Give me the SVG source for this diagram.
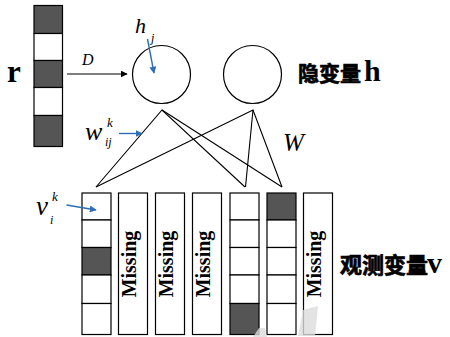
<svg xmlns="http://www.w3.org/2000/svg" width="450" height="337" viewBox="0 0 450 337">
<defs>
<style>
.cell{fill:#fff;stroke:#000;stroke-width:1.2}
.dark{fill:#555;stroke:#000;stroke-width:1.2}
.line{stroke:#000;stroke-width:1.1;fill:none}
.blue{stroke:#2f6db5;stroke-width:1.4;fill:none}
.it{font-family:"Liberation Serif",serif;font-style:italic}
.miss{font-family:"Liberation Serif",serif;font-weight:bold;font-size:20px}
.cjk{font-family:"Noto Sans CJK SC",sans-serif;font-weight:bold;font-size:21px;stroke:#000;stroke-width:0.7}
.bl{font-family:"Liberation Serif",serif;font-weight:bold;stroke:none}
</style>
<marker id="ab" viewBox="0 0 10 10" refX="9" refY="5" markerWidth="7" markerHeight="7" orient="auto" markerUnits="userSpaceOnUse"><path d="M0,0 L10,5 L0,10 z" fill="#2f6db5"/></marker>
<marker id="ak" viewBox="0 0 10 10" refX="9" refY="5" markerWidth="7" markerHeight="7" orient="auto" markerUnits="userSpaceOnUse"><path d="M0,0 L10,5 L0,10 z" fill="#000"/></marker>
</defs>
<rect width="450" height="337" fill="#fff"/>
<g id="r">
<rect class="dark" x="34" y="5.5" width="28.5" height="28"/>
<rect class="cell" x="34" y="33.5" width="28.5" height="27"/>
<rect class="dark" x="34" y="60.5" width="28.5" height="27"/>
<rect class="cell" x="34" y="87.5" width="28.5" height="28"/>
<rect class="dark" x="34" y="115.5" width="28.5" height="31"/>
<text class="bl" x="7" y="82" style="font-size:31px">r</text>
</g>
<g id="h1">
<circle cx="161.5" cy="74.5" r="29" fill="#fff" stroke="#000" stroke-width="1.2"/>
<text class="it" x="135" y="33" style="font-size:22px">h</text>
<text class="it" x="151" y="42" style="font-size:12px">j</text>
</g>
<g id="h2">
<circle cx="252.5" cy="74.5" r="29" fill="#fff" stroke="#000" stroke-width="1.2"/>
</g>
<g id="hlabel">
<text class="cjk" x="298" y="81">隐变量<tspan class="bl" x="364" style="font-size:30px">h</tspan></text>
</g>
<g id="labels">
<text class="it" x="82" y="65" style="font-size:16px">D</text>
<text class="it" x="85" y="140" style="font-size:26px">w</text>
<text class="it" x="107" y="127" style="font-size:13px">k</text>
<text class="it" x="105" y="146" style="font-size:12px">ij</text>
<text class="it" x="283" y="151" style="font-size:25px">W</text>
<text class="it" x="36" y="215" style="font-size:27px">v</text>
<text class="it" x="52" y="201" style="font-size:13px">k</text>
<text class="it" x="50" y="224" style="font-size:12px">i</text>
</g>
<g id="v1">
<rect class="cell" x="82" y="193" width="29" height="27"/>
<rect class="cell" x="82" y="220" width="29" height="27.5"/>
<rect class="dark" x="82" y="247.5" width="29" height="27.5"/>
<rect class="cell" x="82" y="275" width="29" height="28.5"/>
<rect class="cell" x="82" y="303.5" width="29" height="31"/>
</g>
<g id="v2">
<rect class="cell" x="118.5" y="193" width="29" height="141.5"/>
<text class="miss" transform="translate(135.5,264) rotate(-90)" text-anchor="middle">Missing</text>
</g>
<g id="v3">
<rect class="cell" x="155.5" y="193" width="29" height="141.5"/>
<text class="miss" transform="translate(172.5,264) rotate(-90)" text-anchor="middle">Missing</text>
</g>
<g id="v4">
<rect class="cell" x="192.5" y="193" width="29" height="141.5"/>
<text class="miss" transform="translate(209.5,264) rotate(-90)" text-anchor="middle">Missing</text>
</g>
<g id="v5">
<rect class="cell" x="230" y="193" width="29" height="27"/>
<rect class="cell" x="230" y="220" width="29" height="27.5"/>
<rect class="cell" x="230" y="247.5" width="29" height="27.5"/>
<rect class="cell" x="230" y="275" width="29" height="28.5"/>
<rect class="dark" x="230" y="303.5" width="29" height="31"/>
</g>
<g id="v6">
<rect class="dark" x="267" y="193" width="29" height="27"/>
<rect class="cell" x="267" y="220" width="29" height="27.5"/>
<rect class="cell" x="267" y="247.5" width="29" height="27.5"/>
<rect class="cell" x="267" y="275" width="29" height="28.5"/>
<rect class="cell" x="267" y="303.5" width="29" height="31"/>
</g>
<g id="v7">
<rect class="cell" x="303.5" y="193" width="29" height="141.5"/>
<text class="miss" transform="translate(321,264) rotate(-90)" text-anchor="middle">Missing</text>
</g>
<g id="vlabel">
<text class="cjk" x="340" y="273" style="font-size:22px">观测变量<tspan class="bl" x="427" style="font-size:30px">v</tspan></text>
</g>
<g id="watermark" fill="#ddd" opacity="0.8">
<polygon points="253,337 259,328 265,328 267,337"/>
<polygon points="298,336 303,310 318,306 315,336"/>
</g>
<g id="connectors">
<line class="line" x1="67" y1="74" x2="127" y2="74" marker-end="url(#ak)"/>
<polyline class="line" points="96,187 162,110 245,187"/>
<line class="line" x1="162" y1="110" x2="282" y2="187"/>
<polyline class="line" points="96,187 253,110 282,187"/>
<line class="line" x1="253" y1="110" x2="245.5" y2="187"/>
<line class="blue" x1="147.5" y1="39" x2="154" y2="73" marker-end="url(#ab)"/>
<line class="blue" x1="119" y1="133.5" x2="142" y2="133.5" marker-end="url(#ab)"/>
<line class="blue" x1="66.5" y1="205" x2="96" y2="210" marker-end="url(#ab)"/>
</g>
</svg>
